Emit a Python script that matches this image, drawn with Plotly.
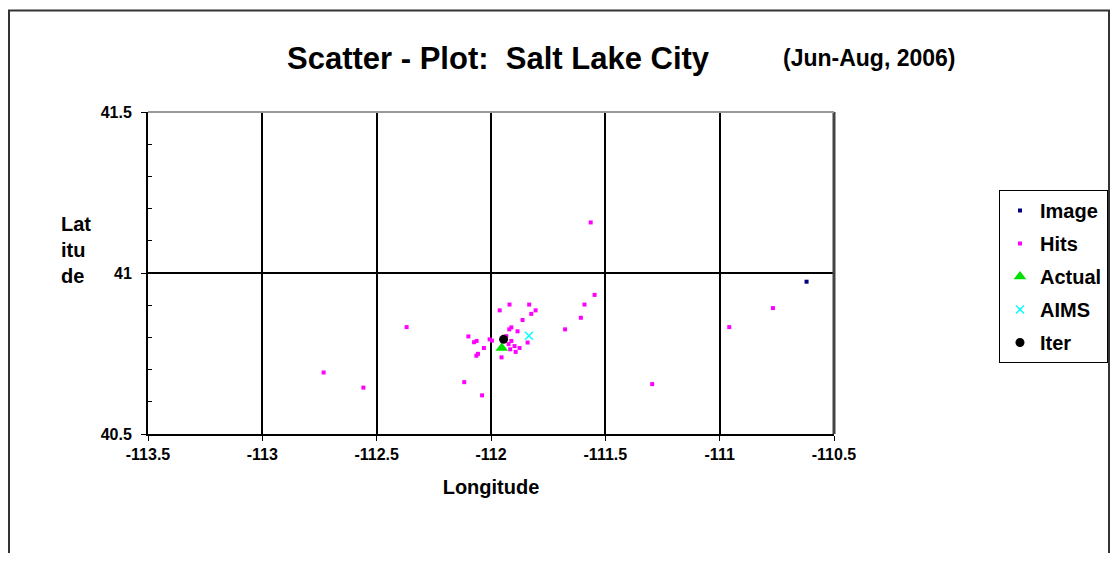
import plotly.graph_objects as go

# ---- data ----
hits_lon = [-111.547, -111.591, -111.607, -111.676, -111.919, -111.833, -111.962, -111.805,
            -111.824, -111.862, -111.911, -111.920, -111.884, -112.099, -112.074, -112.063,
            -112.006, -111.996, -112.031, -112.064, -112.057, -111.954, -111.892, -111.875,
            -111.840, -112.117, -112.039, -112.369, -112.732, -112.558, -111.564, -111.295,
            -110.958, -110.767, -111.911, -111.923, -111.916, -111.897, -111.933]
hits_lat = [40.932, 40.902, 40.861, 40.825, 40.902, 40.902, 40.884, 40.884,
            40.873, 40.854, 40.831, 40.825, 40.819, 40.803, 40.785, 40.789,
            40.794, 40.790, 40.767, 40.743, 40.749, 40.738, 40.755, 40.767,
            40.784, 40.661, 40.620, 40.832, 40.691, 40.644, 41.157, 40.655,
            40.832, 40.891, 40.789, 40.779, 40.763, 40.773, 40.804]
image_lon = [-110.620]
image_lat = [40.973]
actual_lon = [-111.953]
actual_lat = [40.767]
aims_lon = [-111.834]
aims_lat = [40.805]
iter_lon = [-111.945]
iter_lat = [40.794]

x_ticks = [-113.5, -113, -112.5, -112, -111.5, -111, -110.5]
y_ticks = [40.5, 41, 41.5]

fig = go.Figure()
fig.add_trace(go.Scatter(x=image_lon, y=image_lat, mode="markers", name="Image",
                         legendgroup="a",
                         marker=dict(symbol="square", size=4, color="#000080")))
fig.add_trace(go.Scatter(x=hits_lon, y=hits_lat, mode="markers", name="Hits",
                         legendgroup="b",
                         marker=dict(symbol="square", size=4, color="#ff00ff")))
fig.add_trace(go.Scatter(x=actual_lon, y=actual_lat, mode="markers", name="Actual",
                         legendgroup="c",
                         marker=dict(symbol="triangle-up", size=11, color="#00e000")))
fig.add_trace(go.Scatter(x=aims_lon, y=aims_lat, mode="markers", name="AIMS",
                         legendgroup="d",
                         marker=dict(symbol="x-thin", size=8, color="#00ffff",
                                     line=dict(width=1.5, color="#00ffff"))))
fig.add_trace(go.Scatter(x=iter_lon, y=iter_lat, mode="markers", name="Iter",
                         legendgroup="e",
                         marker=dict(symbol="circle", size=9, color="#000000")))

font_family = "Liberation Sans, Arial, sans-serif"

W, H = 1102, 545  # page has an 8px body margin; keep the figure inside the 1118x561 window
fig.update_layout(
    width=W, height=H,
    margin=dict(l=140, r=276, t=104, b=119),
    paper_bgcolor="white", plot_bgcolor="white",
    font=dict(family=font_family, color="black"),
    showlegend=True,
    legend=dict(xref="container", yref="container",
                x=(1108 - 8) / W, y=1 - (190 - 8) / H, xanchor="right", yanchor="top",
                bordercolor="black", borderwidth=1, bgcolor="white",
                font=dict(size=20, family=font_family, weight="bold"),
                traceorder="grouped", tracegroupgap=4,
                itemsizing="trace", itemwidth=30),
    xaxis=dict(range=[-113.5, -110.5], tickvals=x_ticks,
               ticktext=[str(v) for v in x_ticks],
               showgrid=True, gridcolor="black", gridwidth=2,
               showline=True, linecolor="black", linewidth=2,
               ticks="outside", ticklen=5, tickcolor="black", tickwidth=1,
               tickfont=dict(size=16, weight="bold"),
               zeroline=False, automargin=False,
               title=dict(text="Longitude", font=dict(size=20, weight="bold"), standoff=18)),
    yaxis=dict(range=[40.5, 41.5], tickvals=y_ticks,
               ticktext=["40.5", "41", "41.5"],
               showgrid=True, gridcolor="black", gridwidth=2,
               showline=True, linecolor="black", linewidth=2,
               ticks="outside", ticklen=5, tickcolor="black", tickwidth=1,
               tickfont=dict(size=16, weight="bold"),
               ticklabelstandoff=6, automargin=False,
               minor=dict(dtick=0.1, ticks="inside", ticklen=4, tickcolor="black", showgrid=False),
               zeroline=False),
)

# outer chart border
fig.add_shape(type="rect", xref="paper", yref="paper",
              x0=(9 - 148) / 686, x1=(1109 - 148) / 686,
              y0=-0.6, y1=(434.3 - 10) / 322.6,
              line=dict(color="#333333", width=2), layer="below")

# right plot edge (dark grey, thick)
fig.add_shape(type="line", xref="paper", yref="paper", x0=1, x1=1, y0=0, y1=1,
              line=dict(color="#444444", width=3))
# top plot edge (grey)
fig.add_shape(type="line", xref="paper", yref="paper", x0=0, x1=1, y0=1, y1=1,
              line=dict(color="#999999", width=2))

fig.add_annotation(text="<b>Scatter - Plot:  Salt Lake City</b>", xref="paper", yref="paper",
                   x=(498 - 148) / 686, y=(434.3 - 58) / 322.6, xanchor="center", yanchor="middle",
                   showarrow=False, font=dict(size=31, family=font_family, color="black"))
fig.add_annotation(text="<b>(Jun-Aug, 2006)</b>", xref="paper", yref="paper",
                   x=(869 - 148) / 686, y=(434.3 - 58) / 322.6, xanchor="center", yanchor="middle",
                   showarrow=False, font=dict(size=23, family=font_family, color="black"))
fig.add_annotation(text="<b>Lat<br>itu<br>de</b>", xref="paper", yref="paper",
                   x=(59 - 148) / 686, y=(434.3 - 250) / 322.6, xanchor="left", yanchor="middle",
                   align="left", showarrow=False,
                   font=dict(size=20, family=font_family, color="black"))

fig.write_html("out.html")
